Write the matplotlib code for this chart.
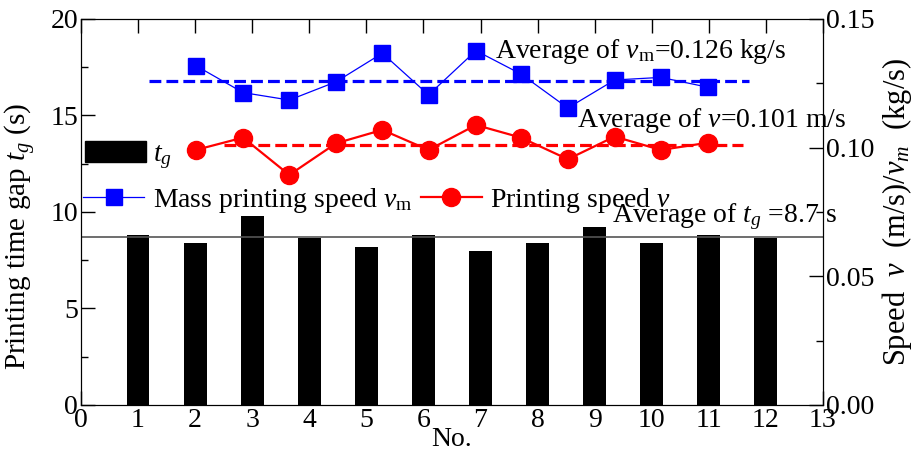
#!/usr/bin/env python3
"""Printing time gap and printing speeds per layer."""

import matplotlib
matplotlib.use("Agg")
import matplotlib.pyplot as plt
from matplotlib.lines import Line2D
from matplotlib.patches import Patch

plt.rcParams["font.family"] = ["Liberation Serif", "DejaVu Serif"]
plt.rcParams["mathtext.fontset"] = "custom"
plt.rcParams["mathtext.rm"] = "Liberation Serif"
plt.rcParams["mathtext.it"] = "Liberation Serif:italic"
plt.rcParams["font.size"] = 20

# layer number and printing time gap (s)
layer_no = [1, 2, 3, 4, 5, 6, 7, 8, 9, 10, 11, 12]
time_gap = [8.81, 8.41, 9.81, 8.67, 8.20, 8.81, 8.00, 8.41, 9.22, 8.41, 8.81, 8.67]
avg_time_gap = 8.7

# speed samples
speed_x = [2.01, 2.84, 3.65, 4.47, 5.28, 6.09, 6.92, 7.71, 8.53, 9.35, 10.16, 10.98]
mass_speed = [0.1319, 0.1214, 0.1185, 0.1256, 0.1367, 0.1205, 0.1377, 0.1286,
              0.1154, 0.1263, 0.1273, 0.1235]
print_speed = [0.0991, 0.1039, 0.0894, 0.1017, 0.1069, 0.0991, 0.1088, 0.1039,
               0.0955, 0.1043, 0.0991, 0.1019]
avg_mass_speed = 0.126
avg_print_speed = 0.101
avg_mass_span = [1.2, 11.7]
avg_print_span = [2.5, 11.6]

BLUE = "#0000ff"
RED = "#ff0000"


def main() -> None:
    fig = plt.figure(figsize=(9.19, 4.62), dpi=100)
    ax = fig.add_axes([0.0881, 0.1234, 0.8074, 0.8355])
    ax2 = ax.twinx()

    ax.bar(layer_no, time_gap, width=0.4, color="black")
    ax.axhline(avg_time_gap, color="#555555", linewidth=1.2)

    ax2.plot(avg_mass_span, [avg_mass_speed] * 2, color=BLUE, linestyle="--", linewidth=2.3)
    ax2.plot(avg_print_span, [avg_print_speed] * 2, color=RED, linestyle="--", linewidth=2.3)
    ax2.plot(speed_x, mass_speed, color=BLUE, linewidth=0.9, marker="s", markersize=12)
    ax2.plot(speed_x, print_speed, color=RED, linewidth=1.6, marker="o", markersize=13)

    ax.set_xlim(0, 13)
    ax.set_ylim(0, 20)
    ax2.set_ylim(0, 0.15)
    ax.set_xticks(range(0, 14))
    ax.set_yticks([0, 5, 10, 15, 20])
    ax.set_yticks([2.5, 7.5, 12.5, 17.5], minor=True)
    ax2.set_yticks([0, 0.05, 0.10, 0.15])
    ax2.set_yticks([0.025, 0.075, 0.125], minor=True)
    ax2.set_yticklabels(["0.00", "0.05", "0.10", "0.15"])

    ax.tick_params(axis="both", which="major", direction="in", length=10, width=1, top=True, pad=2)
    ax.tick_params(axis="both", which="minor", direction="in", length=5, width=1)
    ax2.tick_params(axis="y", which="major", direction="in", length=10, width=1, pad=2)
    ax2.tick_params(axis="y", which="minor", direction="in", length=5, width=1)

    ax.set_xlabel("No.", labelpad=-4)
    ax.set_ylabel("Printing time gap $t_g$ (s)", fontsize=21)
    ax.yaxis.set_label_coords(-0.058, 0.438)
    ax2.set_ylabel("Speed  $v$  (m/s)/$v_m$  (kg/s)", fontsize=22, labelpad=4)

    ax2.text(7.25, 0.1375, r"Average of $v_\mathrm{m}$=0.126 kg/s", va="center", ha="left")
    ax2.text(8.69, 0.1105, "Average of $v$=0.101 m/s", va="center", ha="left")
    ax.text(9.3, 9.75, "Average of $t_g$ =8.7 s", va="center", ha="left")

    bar_leg = ax2.legend(handles=[Patch(facecolor="black", edgecolor="black", label="$t_g$")],
                         loc="center left", bbox_to_anchor=(0.005, 0.645), frameon=False,
                         borderpad=0, borderaxespad=0, handlelength=2.2, handleheight=0.8,
                         handletextpad=0.25)
    ax2.add_artist(bar_leg)
    line_handles = [
        Line2D([], [], color=BLUE, linewidth=0.9, marker="s", markersize=12,
               label=r"Mass printing speed $v_\mathrm{m}$"),
        Line2D([], [], color=RED, linewidth=1.6, marker="o", markersize=13,
               label="Printing speed $v$"),
    ]
    ax2.legend(handles=line_handles, loc="center left", bbox_to_anchor=(0.003, 0.53),
               frameon=False, ncol=2, borderpad=0, borderaxespad=0, handlelength=2.2,
               handletextpad=0.3, columnspacing=0.3)

    fig.savefig("out.png", dpi=100)
    plt.close(fig)


if __name__ == "__main__":
    main()
